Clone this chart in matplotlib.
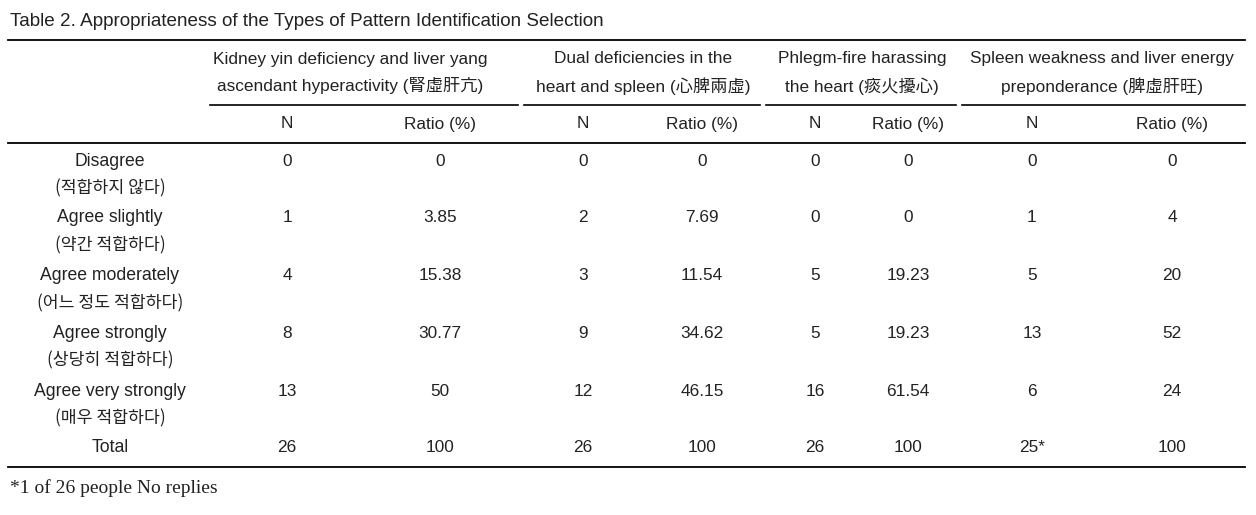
import matplotlib.pyplot as plt

W, H = 1256, 515

# Data
groups = ['Kidney yin deficiency and liver yang\nascendant hyperactivity (腎虛肝亢)',
          'Dual deficiencies in the\nheart and spleen (心脾兩虛)',
          'Phlegm-fire harassing\nthe heart (痰火擾心)',
          'Spleen weakness and liver energy\npreponderance (脾虛肝旺)']
row_en = ['Disagree', 'Agree slightly', 'Agree moderately', 'Agree strongly',
          'Agree very strongly', 'Total']
row_ko = ['(적합하지 않다)', '(약간 적합하다)', '(어느 정도 적합하다)', '(상당히 적합하다)',
          '(매우 적합하다)', '']
n_vals = [['0', '1', '4', '8', '13', '26'],
          ['0', '2', '3', '9', '12', '26'],
          ['0', '0', '5', '5', '16', '26'],
          ['0', '1', '5', '13', '6', '25*']]
ratio_vals = [['0', '3.85', '15.38', '30.77', '50', '100'],
              ['0', '7.69', '11.54', '34.62', '46.15', '100'],
              ['0', '0', '19.23', '19.23', '61.54', '100'],
              ['0', '4', '20', '52', '24', '100']]
title = 'Table 2. Appropriateness of the Types of Pattern Identification Selection'
note = '*1 of 26 people No replies'

plt.rcParams['font.family'] = ['Liberation Sans', 'Noto Sans CJK KR', 'DejaVu Sans']

fig = plt.figure(figsize=(W / 100, H / 100), dpi=100)
ax = fig.add_axes([0, 0, 1, 1])
ax.set_xlim(0, W)
ax.set_ylim(H, 0)
ax.axis('off')

fs = 12.4
col = '#222222'

ax.text(10, 22, title, fontsize=13.6, va='center', ha='left', color=col)

# rules
ax.plot([8, 1245], [40, 40], color='black', lw=1.3)
ax.plot([8, 1245], [143, 143], color='black', lw=1.3)
ax.plot([8, 1245], [467, 467], color='black', lw=1.3)
seg = [(210, 518), (524, 760), (766, 956), (962, 1245)]
for a, b in seg:
    ax.plot([a, b], [105, 105], color='black', lw=1.2)

grp_x = [350, 643, 862, 1102]
n_x = [287, 583, 815, 1032]
r_x = [440, 702, 908, 1172]
for g, gx in zip(groups, grp_x):
    ax.text(gx, 73, g, fontsize=fs, ha='center', va='center', color=col, linespacing=1.75)
for nx, rx in zip(n_x, r_x):
    ax.text(nx, 124, 'N', fontsize=fs, ha='center', va='center', color=col)
    ax.text(rx, 124, 'Ratio (%)', fontsize=fs, ha='center', va='center', color=col)

row_y = [161, 218, 276, 333, 391, 447]
for i, y in enumerate(row_y):
    ax.text(110, y, row_en[i], fontsize=fs + 0.3, ha='center', va='center', color=col)
    if row_ko[i]:
        ax.text(110, y + 27, row_ko[i], fontsize=fs, ha='center', va='center', color=col,
                family=['Noto Sans CJK KR', 'DejaVu Sans'])
    for j in range(4):
        ax.text(n_x[j], y, n_vals[j][i], fontsize=fs, ha='center', va='center', color=col)
        ax.text(r_x[j], y, ratio_vals[j][i], fontsize=fs, ha='center', va='center', color=col)

ax.text(10, 488, note, fontsize=14, ha='left', va='center', color=col,
        family=['Liberation Serif', 'DejaVu Serif'])

fig.savefig('out.png', dpi=100)
